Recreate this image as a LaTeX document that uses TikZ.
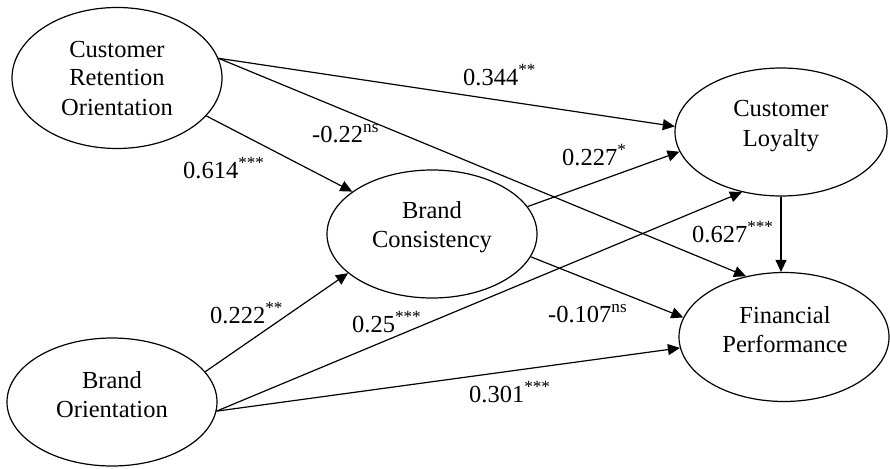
\documentclass[tikz,border=0pt]{standalone}
\usepackage{fontspec}
\setmainfont{Liberation Serif}
\usetikzlibrary{shapes.geometric,arrows.meta}
\tikzset{
  ell/.style={draw, shape=ellipse, line width=1.2pt, inner sep=0pt, minimum width=210pt, minimum height=128pt},
  etxt/.style={anchor=base, inner sep=0pt, font=\fontsize{24.5}{29}\selectfont},
  lbl/.style={anchor=base west, inner sep=0pt, font=\fontsize{24.5}{29}\selectfont},
  conn/.style={line width=1.2pt, -{Triangle[length=12pt,width=11pt]}}
}
\newcommand{\twoline}[2]{\begin{tabular}[b]{@{}c@{}}#1\\#2\end{tabular}}
\newcommand{\threeline}[3]{\begin{tabular}[b]{@{}c@{}}#1\\#2\\#3\end{tabular}}
\begin{document}
\begin{tikzpicture}[x=1pt,y=-1pt]
\useasboundingbox (0,0) rectangle (890,468);
% ellipses
\node[ell, minimum height=141pt] (CRO) at (117,78) {};
\node[ell] (BC) at (432,234) {};
\node[ell, minimum width=212pt] (CL) at (781,132) {};
\node[ell, minimum height=129pt] (FP) at (784,337) {};
\node[ell] (BO) at (112,402) {};
% texts
\node[etxt] (CROt) at (117,115) {\threeline{Customer}{Retention}{Orientation}};
\node[etxt] (BCt) at (432,247) {\twoline{Brand}{Consistency}};
\node[etxt] (CLt) at (781,146) {\twoline{Customer}{Loyalty}};
\node[etxt] (FPt) at (785,352) {\twoline{Financial}{Performance}};
\node[etxt] (BOt) at (112,417) {\twoline{Brand}{Orientation}};
% connectors
\draw[conn] (CRO.11.3) -- (CL.177.8);
\draw[conn] (CRO.11.3) -- (FP.122.2);
\draw[conn] (CRO.-23) -- (BC.152.4);
\draw[conn] (BC.16.8) -- (CL.191.7);
\draw[conn] (BC.-13.5) -- (FP.169);
\draw[conn] (CL.south) -- (CL.south |- FP.north);
\draw[conn] (BO.18.3) -- (BC.205.2);
\draw[conn] (BO.-5.9) -- (CL.237.7);
\draw[conn] (BO.-5.9) -- (FP.186);
% labels
\node[lbl] (l1) at (463,85) {0.344\textsuperscript{**}};
\node[lbl] (l2) at (312,142) {-0.22\textsuperscript{ns}};
\node[lbl] (l3) at (183,178) {0.614\textsuperscript{***}};
\node[lbl] (l4) at (562,165) {0.227\textsuperscript{*}};
\node[lbl] (l5) at (692,242) {0.627\textsuperscript{***}};
\node[lbl] (l6) at (210,323) {0.222\textsuperscript{**}};
\node[lbl] (l7) at (352,332) {0.25\textsuperscript{***}};
\node[lbl] (l8) at (548,322) {-0.107\textsuperscript{ns}};
\node[lbl] (l9) at (469,402) {0.301\textsuperscript{***}};
\end{tikzpicture}
\end{document}
